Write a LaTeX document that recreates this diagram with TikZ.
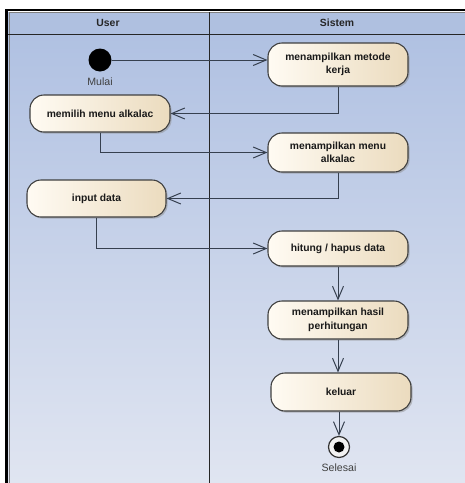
\documentclass[tikz,border=0pt]{standalone}
\usepackage{fontspec}
\setmainfont{Liberation Sans}
\usetikzlibrary{arrows.meta,shadows,calc}
\definecolor{lanetop}{HTML}{B0C1E2}
\definecolor{lanebot}{HTML}{E0E5F1}
\definecolor{headfill}{HTML}{AFC0E0}
\definecolor{flow}{HTML}{36404F}
\definecolor{actA}{HTML}{FFFBF3}
\definecolor{actB}{HTML}{EBDBBE}
\tikzset{
  act/.style={draw=black!75, line width=1.1pt, rounded corners=14pt,
    minimum width=140pt, align=center, font=\bfseries\fontsize{10.3}{13.5}\selectfont,
    text=black!90, left color=actA, right color=actB,
    drop shadow={shadow xshift=1.6pt, shadow yshift=-1.6pt, fill=black!45, opacity=0.5}},
  flowline/.style={draw=flow, line width=1pt, -{Straight Barb[length=13pt,width=11pt,line width=1pt]}},
  lbl/.style={font=\fontsize{10.6}{12}\selectfont, text=black!75},
  lanehead/.style={font=\bfseries\fontsize{10.4}{12}\selectfont, text=black!85}
}
\begin{document}
\begin{tikzpicture}[x=1pt,y=-1pt]
\useasboundingbox (0,0) rectangle (465,483);
\fill[white] (0,0) rectangle (465,483);
% swimlane body
\shade[top color=lanetop, bottom color=lanebot] (8,34) rectangle (465,483);
\fill[headfill] (8,12) rectangle (465,34);
% frame
\draw[black, line width=3pt] (6.5,9.5) -- (6.5,483);
\draw[black, line width=1.5pt] (5,9.8) -- (465,9.8);
\draw[black!50, line width=0.6pt] (9,12) -- (465,12);
\draw[black!50, line width=0.6pt] (9,12) -- (9,483);
\draw[black!85, line width=1pt] (8,34) -- (465,34);
\draw[black!85, line width=1pt] (209,12) -- (209,483);
\node[lanehead] (hUser) at (108,23) {User};
\node[lanehead] (hSis) at (337,23) {Sistem};
% nodes
\node[circle, fill=black, minimum size=23pt, inner sep=0pt] (start) at (100,60) {};
\node[lbl] (mulai) at (100,82) {Mulai};
\node[act, minimum height=43pt] (metode) at (338,64.5) {menampilkan metode\\kerja};
\node[act, minimum height=37pt] (memilih) at (100,113.5) {memilih menu alkalac};
\node[act, minimum height=39pt] (alk) at (338,152.5) {menampilkan menu\\alkalac};
\node[act, minimum height=37pt, minimum width=139pt] (input) at (96.5,198.5) {input data};
\node[act, minimum height=35pt] (hitung) at (338,248.5) {hitung / hapus data};
\node[act, minimum height=38pt] (hasil) at (338,320) {menampilkan hasil\\perhitungan};
\node[act, minimum height=38pt] (keluar) at (341,392) {keluar};
\node[circle, draw=black!80, line width=1.2pt, fill=white!95!black, minimum size=21pt, inner sep=0pt] (end) at (339,447) {};
\fill[black] (end.center) circle (5.5pt);
\node[lbl] (selesai) at (339,468) {Selesai};
% flows
\draw[flowline] (start.east) -- (start.east -| metode.west);
\draw[flowline] (metode.south) |- (memilih.east);
\draw[flowline] (memilih.south) |- (alk.west);
\draw[flowline] (alk.south) |- (input.east);
\draw[flowline] (input.south) |- (hitung.west);
\draw[flowline] (hitung.south) -- (hasil.north);
\draw[flowline] (hasil.south) -- (hasil.south |- keluar.north);
\draw[flowline] (keluar.south -| end.north) -- (end.north);
\end{tikzpicture}
\end{document}
